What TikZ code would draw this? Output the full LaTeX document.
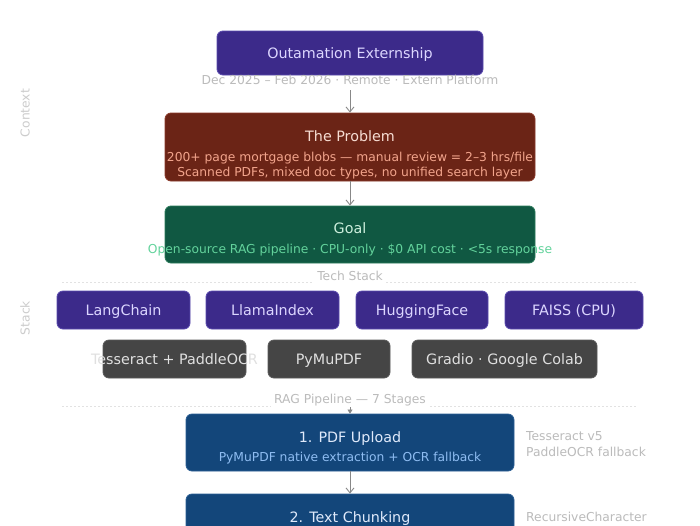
\documentclass[tikz,border=0pt]{standalone}
\usepackage{fontspec}
\setmainfont{DejaVu Sans}
\usetikzlibrary{arrows.meta}
\definecolor{cPurple}{HTML}{3C2A8A}
\definecolor{cPurpleE}{HTML}{5A4AAE}
\definecolor{cPurpleT}{HTML}{DCD6FF}
\definecolor{cRed}{HTML}{6B2416}
\definecolor{cRedE}{HTML}{8B3A2A}
\definecolor{cRedT}{HTML}{F7DDD3}
\definecolor{cRedD}{HTML}{F2A48C}
\definecolor{cGreen}{HTML}{105842}
\definecolor{cGreenE}{HTML}{2A7A5A}
\definecolor{cGreenT}{HTML}{CDEFDD}
\definecolor{cGreenD}{HTML}{63D39C}
\definecolor{cGray}{HTML}{454545}
\definecolor{cGrayE}{HTML}{5A5A5A}
\definecolor{cGrayT}{HTML}{E0E0E0}
\definecolor{cBlue}{HTML}{13467A}
\definecolor{cBlueE}{HTML}{2A5E94}
\definecolor{cBlueT}{HTML}{E0EAFB}
\definecolor{cBlueD}{HTML}{8FBDF2}
\definecolor{cArrow}{HTML}{888888}
\definecolor{cSep}{HTML}{E2E2E2}
\definecolor{cNote}{HTML}{BBBBBB}
\definecolor{cSide}{HTML}{CCCCCC}
\begin{document}
\begin{tikzpicture}[x=1pt,y=-1pt,
  box/.style={rounded corners=6pt, inner sep=0pt, line width=0.8pt},
  ttl/.style={font=\fontsize{14.3}{17}\selectfont, inner sep=0pt, text height=10.4pt, text depth=0pt},
  dtl/.style={font=\fontsize{12.3}{15}\selectfont, inner sep=0pt, text height=9pt, text depth=0pt},
  arr/.style={draw=cArrow, line width=0.9pt, -{Straight Barb[length=5pt,width=8pt]}},
  tinyarr/.style={draw=cArrow, line width=0.6pt, -{Triangle[length=4pt,width=5pt]}},
  sep/.style={draw=cSep, line width=0.6pt, dash pattern=on 2pt off 2pt},
  seclabel/.style={dtl, text=cNote, fill=white, inner sep=3pt},
  purplebox/.style={box, ttl, fill=cPurple, draw=cPurpleE, text=cPurpleT, minimum height=38pt},
  graybox/.style={box, fill=cGray, draw=cGrayE, minimum height=38pt},
  graytext/.style={ttl, text=cGrayT},
  bluebox/.style={box, fill=cBlue, draw=cBlueE, minimum width=328pt, minimum height=57pt},
  note/.style={dtl, text=cNote, anchor=west},
  side/.style={dtl, text=cSide, rotate=90},
]
\useasboundingbox (0,0) rectangle (700,525);
\clip (0,0) rectangle (700,525);
\fill[white] (0,0) rectangle (700,525);

% side labels
\node[side] (ctxL) at (25,113) {Context};
\node[side] (stkL) at (25,318) {Stack};

% context
\node[box, ttl, fill=cPurple, draw=cPurpleE, text=cPurpleT, minimum width=266pt, minimum height=44pt] (ext) at (350,53) {Outamation Externship};
\node[dtl, text=cNote] (extS) at (350,80) {Dec 2025 – Feb 2026 · Remote · Extern Platform};
\coordinate (a1s) at (350,90);

\node[box, fill=cRed, draw=cRedE, minimum width=370pt, minimum height=68pt] (prob) at (350,147) {};
\node[ttl, text=cRedT] (probT) at (350,136) {The Problem};
\node[dtl, text=cRedD] (probD1) at (350,157) {200+ page mortgage blobs — manual review = 2–3 hrs/file};
\node[dtl, text=cRedD] (probD2) at (350,172) {Scanned PDFs, mixed doc types, no unified search layer};
\draw[arr] (a1s) -- (prob.north);

\node[box, fill=cGreen, draw=cGreenE, minimum width=370pt, minimum height=57pt] (goal) at (350,234.5) {};
\node[ttl, text=cGreenT] (goalT) at (350,228) {Goal};
\node[dtl, text=cGreenD] (goalD) at (350,249) {Open-source RAG pipeline · CPU-only · \$0 API cost · <5s response};
\draw[arr] (prob.south) -- (goal.north);

% tech stack
\coordinate (d1l) at (62,282);
\coordinate (d1r) at (637,282);
\draw[sep] (d1l) -- (d1r);
\node[seclabel] (techL) at (350,276) {Tech Stack};

\node[purplebox, minimum width=133pt] (lc) at (123.5,310) {LangChain};
\node[purplebox, minimum width=133pt] (li) at (272.5,310) {LlamaIndex};
\node[purplebox, minimum width=132pt] (hf) at (422,310) {HuggingFace};
\node[purplebox, minimum width=138pt] (fa) at (574,310) {FAISS (CPU)};

\node[graybox, minimum width=143pt] (tess) at (174.5,359) {};
\node[graytext] (tessT) at (174.5,359) {Tesseract + PaddleOCR};
\node[graybox, minimum width=122pt] (pymu) at (329,359) {};
\node[graytext] (pymuT) at (329,359) {PyMuPDF};
\node[graybox, minimum width=185pt] (grad) at (504.5,359) {};
\node[graytext] (gradT) at (504.5,359) {Gradio · Google Colab};

% pipeline
\coordinate (d2l) at (62,406);
\coordinate (d2r) at (637,406);
\draw[sep] (d2l) -- (d2r);
\coordinate (a4s) at (350,398);
\node[bluebox] (s1) at (350,442.5) {};
\draw[tinyarr] (a4s) -- (s1.north);
\node[seclabel] (ragL) at (350,399) {RAG Pipeline — 7 Stages};
\node[ttl, text=cBlueT] (s1T) at (350,437) {1. PDF Upload};
\node[dtl, text=cBlueD] (s1D) at (350,457) {PyMuPDF native extraction + OCR fallback};
\node[note] (n1a) at (526,436) {Tesseract v5};
\node[note] (n1b) at (526,452) {PaddleOCR fallback};

\node[bluebox] (s2) at (350,522.5) {};
\node[ttl, text=cBlueT] (s2T) at (350,517) {2. Text Chunking};
\node[note] (n2a) at (526,517) {RecursiveCharacter};
\draw[arr] (s1.south) -- (s2.north);
\end{tikzpicture}
\end{document}
